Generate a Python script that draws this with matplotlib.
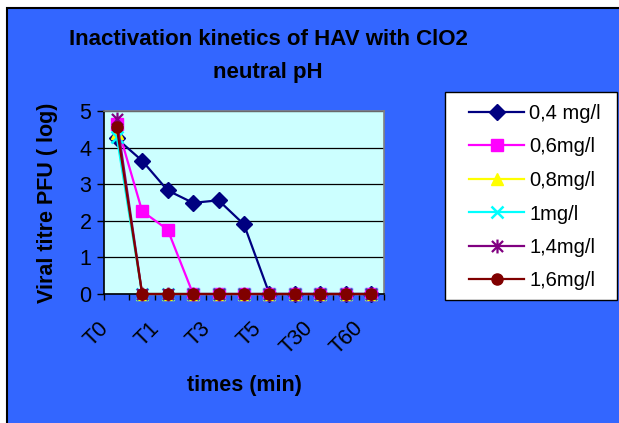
import matplotlib
matplotlib.use("Agg")
import matplotlib.pyplot as plt
from matplotlib.patches import Rectangle
from matplotlib.path import Path
import numpy as np

plt.rcParams['font.family'] = ['Liberation Sans', 'DejaVu Sans']

# Sampling times (only every other one is labelled on the axis)
tick_labels = ["T0", "", "T1", "", "T3", "", "T5", "", "T30", "", "T60"]

# Viral titre (log PFU) per ClO2 concentration
s_04 = [4.25, 3.64, 2.83, 2.49, 2.56, 1.90, 0, 0, 0, 0, 0]
s_06 = [4.65, 2.26, 1.76, 0, 0, 0, 0, 0, 0, 0, 0]
s_08 = [4.40, 0, 0, 0, 0, 0, 0, 0, 0, 0, 0]
s_10 = [4.30, 0, 0, 0, 0, 0, 0, 0, 0, 0, 0]
s_14 = [4.78, 0, 0, 0, 0, 0, 0, 0, 0, 0, 0]
s_16 = [4.56, 0, 0, 0, 0, 0, 0, 0, 0, 0, 0]

series_names = ["0,4 mg/l", "0,6mg/l", "0,8mg/l", "1mg/l", "1,4mg/l", "1,6mg/l"]

# star marker: vertical bar plus an X
star = Path([(0, -1), (0, 1), (-0.8, -0.8), (0.8, 0.8), (-0.8, 0.8), (0.8, -0.8)],
            [Path.MOVETO, Path.LINETO, Path.MOVETO, Path.LINETO, Path.MOVETO, Path.LINETO])

styles = [
    dict(color="#000080", marker="D", ms=8, mfc="#000080", mec="#000080"),
    dict(color="#FF00FF", marker="s", ms=8, mfc="#FF00FF", mec="#FF00FF"),
    dict(color="#FFFF00", marker="^", ms=8, mfc="#FFFF00", mec="#FFFF00"),
    dict(color="#00FFFF", marker="x", ms=8, mew=1.8, mfc="#00FFFF", mec="#00FFFF"),
    dict(color="#800080", marker=star, ms=10, mew=1.6, mfc="none", mec="#800080"),
    dict(color="#800000", marker="o", ms=8, mfc="#800000", mec="#800000"),
]

W, H = 619, 423
fig = plt.figure(figsize=(W / 100, H / 100), dpi=100)
fig.patch.set_facecolor("white")

# blue chart panel
fig.patches.append(Rectangle((7 / W, -0.05), 1.1, 1 - 8 / H + 0.05, transform=fig.transFigure,
                             facecolor="#3366FF", edgecolor="black", lw=1.5, zorder=-5))

ax = fig.add_axes([104 / W, 1 - 294 / H, 280 / W, 183 / H])
ax.set_zorder(1)
ax.set_facecolor("#CCFFFF")

x = np.arange(len(tick_labels))
data = [s_04, s_06, s_08, s_10, s_14, s_16]
for vals, name, st in zip(data, series_names, styles):
    ax.plot(x, vals, lw=1.6, label=name, clip_on=False, zorder=3, **st)

ax.set_xlim(-0.5, len(tick_labels) - 0.5)
ax.set_ylim(0, 5)
ax.set_yticks(range(0, 6))
ax.yaxis.grid(True, color="black", lw=0.9)
ax.set_axisbelow(True)
ax.tick_params(axis="y", direction="out", length=5, width=1, labelsize=15.5, pad=4, colors="black")

ax.set_xticks(np.arange(-0.5, len(tick_labels), 1.0))
ax.set_xticklabels([])
ax.tick_params(axis="x", direction="out", length=4, width=1)
for i, lab in enumerate(tick_labels):
    if lab:
        ax.annotate(lab, xy=(i, 0), xycoords=("data", "axes fraction"),
                    xytext=(-11, -31), textcoords="offset pixels",
                    rotation=45, ha="right", va="center", rotation_mode="anchor",
                    fontsize=15.5)

for side in ("left", "bottom"):
    ax.spines[side].set_color("black")
    ax.spines[side].set_linewidth(1.2)
for side in ("top", "right"):
    ax.spines[side].set_color("#808080")
    ax.spines[side].set_linewidth(1.2)

ax.set_xlabel("times (min)", fontsize=15.5, fontweight="bold")
ax.xaxis.set_label_coords(0.5, -0.445)
ax.set_ylabel("Viral titre PFU ( log)", fontsize=15.5, fontweight="bold")
ax.yaxis.set_label_coords(-0.164, 0.5)

fig.text(268 / W, 1 - 56 / H, "Inactivation kinetics of HAV with ClO2\nneutral pH",
         ha="center", va="center", fontsize=16, fontweight="bold", linespacing=1.75)

# legend box
fig.patches.append(Rectangle((445 / W, 1 - 300 / H), 172 / W, 208 / H, transform=fig.transFigure,
                             facecolor="white", edgecolor="black", lw=1.0, zorder=2))
leg = fig.legend(loc="upper left", bbox_to_anchor=(469 / W, 1 - 104 / H), frameon=False,
                 fontsize=14.5, handlelength=2.75, handletextpad=0.25, labelspacing=0.72,
                 borderpad=0, borderaxespad=0)
leg.set_zorder(3)

fig.savefig("out.png", dpi=100, facecolor="white")
